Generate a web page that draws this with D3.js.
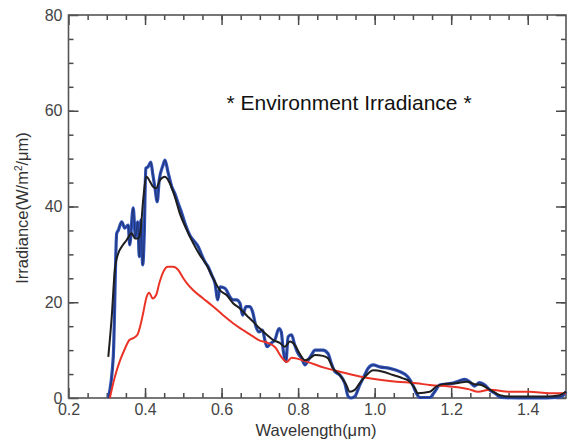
<!DOCTYPE html>
<html>
<head>
<meta charset="utf-8">
<script src="https://cdn.jsdelivr.net/npm/d3@7"></script>
<style>
    body { margin: 0; background: #fff; }
    .tick text { font-family: "Liberation Sans", Arial, sans-serif; font-size: 16px; fill: #444; }
    .lbl { font-family: "Liberation Sans", Arial, sans-serif; fill: #333; }
</style>
</head>
<body>
<svg id="chart" width="569" height="441"></svg>
<script>
// wavelength (um) / irradiance (W/m2/um)
var blueW = [0.304, 0.317, 0.326, 0.330, 0.339, 0.347, 0.356, 0.360, 0.369, 0.375, 0.381, 0.385, 0.389, 0.394, 0.398,
    0.402, 0.408, 0.415, 0.420, 0.426, 0.432, 0.437, 0.447, 0.452, 0.460, 0.470, 0.478, 0.487, 0.496, 0.504, 0.517,
    0.530, 0.539, 0.548, 0.556, 0.565, 0.574, 0.583, 0.590, 0.596, 0.609, 0.622, 0.630, 0.639, 0.648, 0.655, 0.664,
    0.674, 0.681, 0.690, 0.698, 0.707, 0.713, 0.719, 0.728, 0.739, 0.750, 0.756, 0.761, 0.768, 0.774, 0.783, 0.791,
    0.800, 0.809, 0.818, 0.826, 0.835, 0.844, 0.852, 0.865, 0.878, 0.887, 0.896, 0.909, 0.922, 0.931, 0.939, 0.948,
    0.961, 0.974, 0.983, 0.996, 1.013, 1.039, 1.066, 1.087, 1.100, 1.109, 1.118, 1.144, 1.157, 1.170, 1.188, 1.205,
    1.222, 1.235, 1.248, 1.261, 1.274, 1.288, 1.300, 1.314, 1.331, 1.400, 1.450, 1.475, 1.490, 1.500];
var blueV = [0, 8.6, 34.4, 35, 36.8, 35.5, 36.1, 32, 39.7, 33.7, 36.8, 29.5, 37.2, 27.8, 34.4,
    48, 48.3, 49.3, 46.9, 43.8, 41, 45.5, 48.6, 49.7, 47.2, 44.1, 42.7, 40.6, 38.6, 36.6, 34,
    32.6, 31.6, 29.9, 28.5, 27.4, 25.7, 23.9, 20.5, 23.2, 22.9, 21.1, 20.5, 20.5, 19.8, 17.3, 19.1,
    19.1, 18, 14.9, 13.8, 14.2, 12.1, 10.7, 11.4, 12.1, 14.5, 13.8, 10, 7.6, 12.8, 13.2, 11.1,
    9.3, 8.3, 6.9, 7.9, 9.0, 10, 10, 10, 9.3, 7.2, 5.5, 4.8, 3.1, 0.3, 0, 0.3,
    2.7, 4.8, 6.2, 6.9, 6.5, 6.2, 5.5, 4.4, 2.7, 1, 0.1, 0.1, 1.3, 2.7, 2.9, 3.1,
    3.6, 3.9, 3.4, 2.5, 3.2, 2.7, 1.7, 1.0, 0.1, 0, 0, 0.1, 0.4, 1.3];

var blackW = [0.304, 0.313, 0.321, 0.330, 0.339, 0.352, 0.365, 0.374, 0.382, 0.389, 0.395, 0.404, 0.413, 0.421,
    0.429, 0.439, 0.452, 0.465, 0.478, 0.491, 0.509, 0.526, 0.543, 0.561, 0.578, 0.596, 0.613, 0.630, 0.648, 0.665,
    0.683, 0.700, 0.718, 0.735, 0.752, 0.765, 0.779, 0.791, 0.804, 0.818, 0.831, 0.844, 0.865, 0.878, 0.891, 0.909,
    0.926, 0.935, 0.948, 0.961, 0.979, 0.996, 1.022, 1.048, 1.074, 1.092, 1.105, 1.113, 1.144, 1.161, 1.179, 1.214,
    1.240, 1.261, 1.279, 1.300, 1.327, 1.353, 1.450, 1.480, 1.500];
var blackV = [8.6, 17, 26.7, 30.2, 31.6, 33, 34.4, 33.3, 33.3, 35.4, 41.3, 46.2, 45.2, 44.1,
    43.8, 45.5, 46.2, 44.8, 42, 38.5, 35.1, 32.3, 29.9, 27.8, 25, 22.5, 21.5, 19.8, 18.7, 17.3,
    15.9, 14.5, 13.2, 12.1, 11.5, 10.7, 11.8, 11.1, 9.3, 7.9, 8.3, 9.0, 8.8, 8.3, 6.2, 4.8,
    2.7, 1.3, 1.7, 3.1, 4.8, 5.8, 5.5, 4.8, 4.1, 3.4, 2, 1.0, 1.3, 2.4, 2.9, 3.1,
    3.4, 2.9, 2.7, 1.8, 0.6, 0.3, 0.3, 0.5, 1.3];

var redW = [0.308, 0.321, 0.335, 0.348, 0.359, 0.369, 0.380, 0.387, 0.395, 0.404, 0.411, 0.420, 0.429, 0.437,
    0.448, 0.460, 0.474, 0.487, 0.500, 0.509, 0.526, 0.552, 0.578, 0.604, 0.630, 0.656, 0.683, 0.700, 0.718, 0.740,
    0.757, 0.770, 0.783, 0.822, 0.870, 0.909, 0.961, 1.013, 1.057, 1.109, 1.144, 1.196, 1.248, 1.270, 1.300, 1.353,
    1.405, 1.457, 1.500];
var redV = [0, 4.4, 7.9, 10.4, 12.1, 12.5, 13.2, 14.9, 17.7, 21.1, 22, 20.8, 21.5, 23.9,
    26.4, 27.4, 27.4, 26.7, 25, 24, 22.5, 20.8, 19.1, 17.3, 15.6, 14.2, 12.8, 12, 11.6, 10.6,
    8.5, 7.5, 8.4, 7.6, 6.3, 5.5, 4.5, 3.8, 3.4, 3.1, 2.7, 2.4, 1.8, 1.3, 1.7, 1.3,
    1.3, 1.0, 1.0];

var xMajor = [0.2, 0.4, 0.6, 0.8, 1.0, 1.2, 1.4];
var xMinor = d3.range(0.25, 1.5, 0.05);
var yMajor = [0, 20, 40, 60, 80];
var yMinor = d3.range(5, 80, 5);

var svg = d3.select('#chart');
var pLeft = 68.5, pRight = 566, pTop = 15, pBottom = 398;

var x = d3.scaleLinear().domain([0.2, 1.5]).range([pLeft, pRight]);
var y = d3.scaleLinear().domain([0, 80]).range([pBottom, pTop]);

// draw a set of inward ticks on one side
function ticks(axis, tr, vals, size, labels) {
    var g = svg.append('g')
        .attr('transform', tr)
        .call(axis.tickValues(vals).tickSize(size).tickPadding(labels ? 14 : 3)
            .tickFormat(labels ? labels : function () { return ''; }));
    g.select('.domain').remove();
    g.selectAll('.tick line').attr('stroke', '#4a4a4a').attr('stroke-width', 1.5);
    return g;
}

ticks(d3.axisBottom(x), 'translate(0,' + pBottom + ')', xMinor, -5);
ticks(d3.axisBottom(x), 'translate(0,' + pBottom + ')', xMajor, -10, d3.format('.1f'))
    .selectAll('.tick text').attr('dy', '0.71em').attr('y', 6);
ticks(d3.axisTop(x), 'translate(0,' + pTop + ')', xMinor, -5);
ticks(d3.axisTop(x), 'translate(0,' + pTop + ')', xMajor, -10);
ticks(d3.axisLeft(y), 'translate(' + pLeft + ',0)', yMinor, -5);
ticks(d3.axisLeft(y), 'translate(' + pLeft + ',0)', yMajor, -10, d3.format('d'))
    .selectAll('.tick text').attr('x', -6);
ticks(d3.axisRight(y), 'translate(' + pRight + ',0)', yMinor, -5);
ticks(d3.axisRight(y), 'translate(' + pRight + ',0)', yMajor, -10);

// frame
svg.append('rect')
    .attr('x', pLeft).attr('y', pTop)
    .attr('width', pRight - pLeft).attr('height', pBottom - pTop)
    .attr('fill', 'none').attr('stroke', '#555').attr('stroke-width', 1.6);

var plot = svg.append('g');

function series(ws, vs) {
    return ws.map(function (w, i) { return [w, vs[i]]; });
}

var line = d3.line()
    .x(function (d) { return x(d[0]); })
    .y(function (d) { return y(d[1]); })
    .curve(d3.curveMonotoneX);

plot.append('path').datum(series(blueW, blueV))
    .attr('d', line).attr('fill', 'none')
    .attr('stroke', '#2f52b8').attr('stroke-width', 3.2).attr('stroke-linejoin', 'round');
plot.append('path').datum(series(blueW, blueV))
    .attr('d', line).attr('fill', 'none')
    .attr('stroke', '#1f2f66').attr('stroke-width', 0.9);
plot.append('path').datum(series(redW, redV))
    .attr('d', line).attr('fill', 'none')
    .attr('stroke', '#ea3326').attr('stroke-width', 2);
plot.append('path').datum(series(blackW, blackV))
    .attr('d', line).attr('fill', 'none')
    .attr('stroke', '#1e1e1e').attr('stroke-width', 2);

// texts
svg.append('text').attr('class', 'lbl')
    .attr('x', 349).attr('y', 110)
    .attr('text-anchor', 'middle')
    .style('font-size', '21px').style('fill', '#111')
    .text('* Environment Irradiance *');

svg.append('text').attr('class', 'lbl')
    .attr('x', 316).attr('y', 436)
    .attr('text-anchor', 'middle')
    .style('font-size', '16.5px')
    .text('Wavelength(\u03bcm)');

var yl = svg.append('text').attr('class', 'lbl')
    .attr('transform', 'translate(28,208) rotate(-90)')
    .attr('text-anchor', 'middle')
    .style('font-size', '16.5px');
yl.append('tspan').text('Irradiance(W/m');
yl.append('tspan').attr('dy', -6).style('font-size', '10px').text('2');
yl.append('tspan').attr('dy', 6).text('/\u03bcm)');
</script>
</body>
</html>
